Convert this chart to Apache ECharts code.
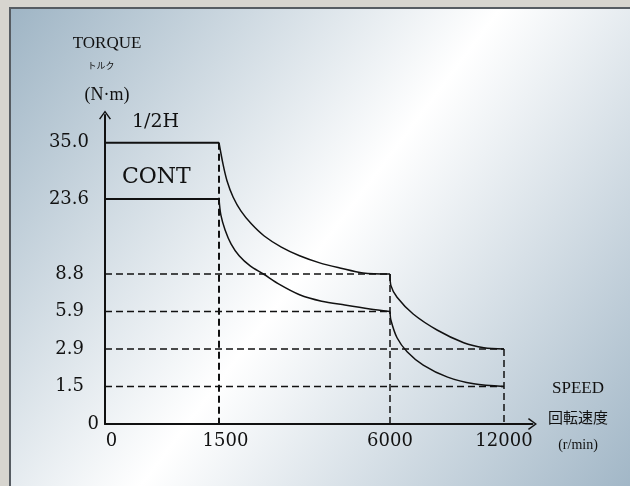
<!DOCTYPE html>
<html>
<head>
<meta charset="utf-8">
<script src="https://cdn.jsdelivr.net/npm/echarts@6/dist/echarts.min.js"></script>
<style>
  html, body { margin: 0; padding: 0; width: 630px; height: 486px; overflow: hidden; background: #d7d5cf; }
  #panel {
    position: absolute; left: 9px; top: 7px; width: 621px; height: 479px; box-sizing: border-box;
    border-left: 2px solid #565c62; border-top: 2px solid #565c62;
    background: linear-gradient(127deg, #9fb5c5 0%, #ffffff 50%, #a2b7c7 100%);
  }
  #chart { position: absolute; left: 0; top: 0; width: 630px; height: 486px; }
</style>
</head>
<body>
<div id="panel"></div>
<div id="chart"></div>
<script>
// Ejes (valores de los ticks)
var speedTicks = [0, 1500, 6000, 12000];
var speedLabels = ['0', '1500', '6000', '12000'];
var torqueTicks = [0, 1.5, 2.9, 5.9, 8.8, 23.6, 35.0];
var torqueLabels = ['0', '1.5', '2.9', '5.9', '8.8', '23.6', '35.0'];

// Curva 1/2H  [velocidad r/min, par N·m]
var halfHFlat = [[0, 35.0], [1500, 35.0]];
var halfHDrop1 = [[1500, 35.0], [1610, 30.5], [1710, 27.3], [1870, 24.0], [2080, 21.2], [2350, 18.7], [2690, 16.3],
  [3140, 14.1], [3620, 12.4], [4150, 11.0], [4680, 10.0], [5290, 9.0], [6000, 8.8]];
var halfHDrop2 = [[6000, 8.8], [6050, 7.9], [6370, 7.0], [7220, 5.7], [8500, 4.4], [9880, 3.4], [10940, 3.0], [12000, 2.9]];

// Curva CONT
var contFlat = [[0, 23.6], [1500, 23.6]];
var contDrop1 = [[1500, 23.6], [1550, 20.4], [1660, 17.5], [1820, 14.7], [2030, 12.4], [2320, 10.4], [2670, 8.8],
  [3090, 8.0], [3620, 7.2], [4200, 6.7], [4810, 6.4], [5470, 6.1], [6000, 5.9]];
var contDrop2 = [[6000, 5.9], [6050, 5.2], [6370, 3.8], [6900, 2.8], [7750, 2.3], [9030, 1.85], [10410, 1.6], [12000, 1.5]];

// Lineas de guia discontinuas
var hGuides = [[8.8, 6000], [5.9, 6000], [2.9, 12000], [1.5, 12000]];   // [par, hasta velocidad]
var vGuides = [[1500, 35.0], [6000, 8.8], [12000, 2.9]];                // [velocidad, desde par]

// El dibujo no es lineal: cada tick ocupa una posicion fija en el eje
var xSlots = [0, 2, 5, 7];
var ySlots = [0, 1, 2, 3, 4, 6, 7.5];

function toSlot(v, ticks, slots) {
  for (var i = 0; i < ticks.length - 1; i++) {
    if (v <= ticks[i + 1]) {
      return slots[i] + (v - ticks[i]) / (ticks[i + 1] - ticks[i]) * (slots[i + 1] - slots[i]);
    }
  }
  return slots[slots.length - 1];
}
function pt(s, t) { return [toSlot(s, speedTicks, xSlots), toSlot(t, torqueTicks, ySlots)]; }
function mapCurve(c) { return c.map(function (p) { return pt(p[0], p[1]); }); }
function labelFor(v, slots, labels) {
  for (var i = 0; i < slots.length; i++) if (Math.abs(slots[i] - v) < 1e-6) return labels[i];
  return '';
}

var serif = '"DejaVu Serif", serif';
var lib = '"Liberation Serif", serif';
var ink = '#111';

var series = [];
function solid(data, smooth, width) {
  series.push({
    type: 'line', data: mapCurve(data), smooth: smooth, symbol: 'none', z: 5,
    lineStyle: { color: ink, width: width }, silent: true
  });
}
function dashed(data, width) {
  series.push({
    type: 'line', data: data, symbol: 'none', z: 3,
    lineStyle: { color: ink, width: width, type: [7, 4] }, silent: true
  });
}
hGuides.forEach(function (g) { dashed([pt(0, g[0]), pt(g[1], g[0])], 1.4); });
vGuides.forEach(function (g) { dashed([pt(g[0], g[1]), pt(g[0], 0)], g[0] === 1500 ? 2 : 1.5); });
solid(halfHFlat, false, 2);
solid(halfHDrop1, 0.3, 1.5);
solid(halfHDrop2, 0.3, 1.5);
solid(contFlat, false, 2);
solid(contDrop1, 0.3, 1.5);
solid(contDrop2, 0.3, 1.5);

var chevron = 'path://M0,0 L7,9.5 L5.6,10.5 L0,2.6 L-5.6,10.5 L-7,9.5 Z';

var chart = echarts.init(document.getElementById('chart'));
chart.setOption({
  animation: false,
  backgroundColor: 'transparent',
  grid: { left: 105, top: 115, width: 427.5, height: 309 },
  xAxis: {
    type: 'value', min: 0, max: 7.5,
    axisLine: { show: true, lineStyle: { color: ink, width: 2 }, symbol: ['none', chevron], symbolSize: [12, 10] },
    axisTick: { show: false }, splitLine: { show: false },
    axisLabel: {
      customValues: xSlots, margin: 8, color: ink, fontFamily: serif, fontSize: 18,
      formatter: function (v) {
        var s = labelFor(v, xSlots, speedLabels);
        return (s === '0' || s === '1500') ? '{p|' + s + '}' : '{n|' + s + '}';
      },
      rich: {
        p: { padding: [0, 0, 0, 13], fontFamily: serif, fontSize: 18, color: ink },
        n: { fontFamily: serif, fontSize: 18, color: ink }
      }
    }
  },
  yAxis: {
    type: 'value', min: 0, max: 8.24,
    axisLine: { show: true, lineStyle: { color: ink, width: 2 }, symbol: ['none', chevron], symbolSize: [12, 10] },
    axisTick: { show: false }, splitLine: { show: false },
    axisLabel: {
      customValues: ySlots, margin: 6, color: ink, fontFamily: serif, fontSize: 18,
      formatter: function (v) {
        var s = labelFor(v, ySlots, torqueLabels);
        if (s === '0') return '{z|0}';
        if (s === '23.6' || s === '35.0') return '{t|' + s + '}';
        return '{m|' + s + '}';
      },
      rich: {
        z: { fontFamily: serif, fontSize: 18, color: ink },
        t: { padding: [0, 10, 0, 0], fontFamily: serif, fontSize: 18, color: ink },
        m: { padding: [0, 15, 0, 0], fontFamily: serif, fontSize: 18, color: ink }
      }
    }
  },
  graphic: [
    { type: 'text', x: 107, y: 44, style: { text: 'TORQUE', align: 'center', verticalAlign: 'middle', font: '17px ' + lib, fill: ink } },
    { type: 'text', x: 101, y: 66, style: { text: 'トルク', align: 'center', verticalAlign: 'middle', font: '9px "Noto Sans CJK JP"', fill: ink } },
    { type: 'text', x: 107, y: 95, style: { text: '(N·m)', align: 'center', verticalAlign: 'middle', font: '18px ' + lib, fill: ink } },
    { type: 'text', x: 132, y: 122, style: { text: '1/2H', align: 'left', verticalAlign: 'middle', font: '19px ' + serif, fill: ink } },
    { type: 'text', x: 122, y: 177, style: { text: 'CONT', align: 'left', verticalAlign: 'middle', font: '22px ' + serif, fill: ink } },
    { type: 'text', x: 578, y: 389, style: { text: 'SPEED', align: 'center', verticalAlign: 'middle', font: '17px ' + lib, fill: ink } },
    { type: 'text', x: 578, y: 417, style: { text: '回転速度', align: 'center', verticalAlign: 'middle', font: '15px "Noto Sans CJK JP"', fill: ink } },
    { type: 'text', x: 578, y: 445, style: { text: '(r/min)', align: 'center', verticalAlign: 'middle', font: '14px ' + lib, fill: ink } }
  ],
  series: series
});
</script>
</body>
</html>
